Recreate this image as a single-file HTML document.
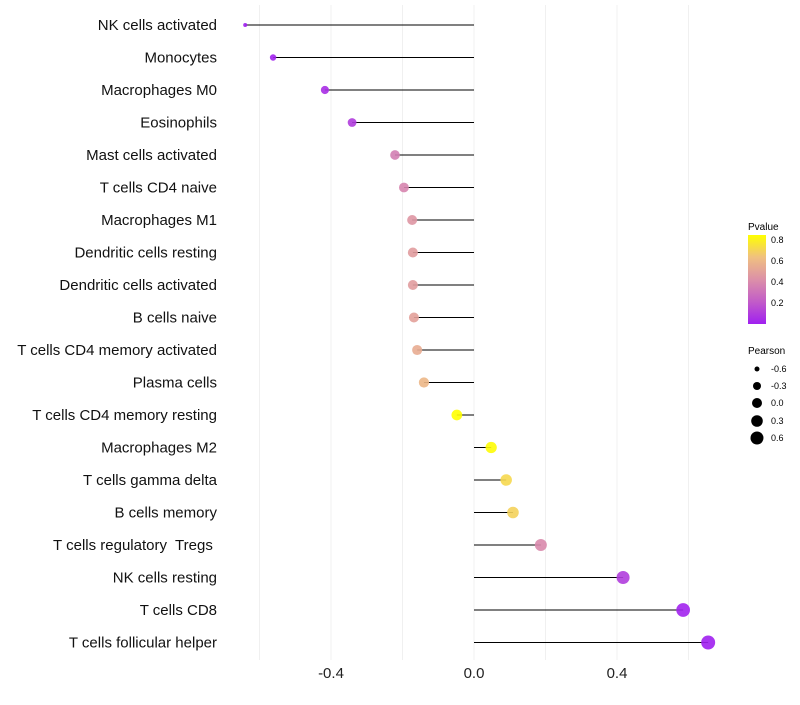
<!DOCTYPE html>
<html><head><meta charset="utf-8"><style>
body{margin:0;background:#fff;}
svg text{font-family:"Liberation Sans",sans-serif;white-space:pre;}
</style></head><body>
<svg id="chart" width="800" height="700">
<defs>
<linearGradient id="pg" x1="0" y1="1" x2="0" y2="0">
<stop offset="0" stop-color="#a020f0"/><stop offset="0.25" stop-color="#c25cc8"/><stop offset="0.5" stop-color="#dc90a8"/><stop offset="0.75" stop-color="#f0c080"/><stop offset="1" stop-color="#ffff00"/>
</linearGradient>
</defs>
<g id="grid"></g><g id="marks"></g><g id="labels"></g>
<g>
<text x="748" y="230" font-size="10">Pvalue</text>
<rect x="748" y="235" width="18" height="89" fill="url(#pg)"/>
<text x="771" y="243" font-size="9">0.8</text>
<text x="771" y="264" font-size="9">0.6</text>
<text x="771" y="285" font-size="9">0.4</text>
<text x="771" y="306" font-size="9">0.2</text>
</g>
<g>
<text x="748" y="354" font-size="10">Pearson</text>
<circle cx="757" cy="369" r="2.5"/><text x="771" y="372" font-size="9">-0.6</text>
<circle cx="757" cy="386" r="4"/><text x="771" y="389" font-size="9">-0.3</text>
<circle cx="757" cy="403" r="5"/><text x="771" y="406" font-size="9">0.0</text>
<circle cx="757" cy="421" r="5.8"/><text x="771" y="424" font-size="9">0.3</text>
<circle cx="757" cy="438" r="6.5"/><text x="771" y="441" font-size="9">0.6</text>
</g>
</svg>
<script>
const categories=["NK cells activated","Monocytes","Macrophages M0","Eosinophils","Mast cells activated","T cells CD4 naive","Macrophages M1","Dendritic cells resting","Dendritic cells activated","B cells naive","T cells CD4 memory activated","Plasma cells","T cells CD4 memory resting","Macrophages M2","T cells gamma delta","B cells memory","T cells regulatory  Tregs ","NK cells resting","T cells CD8","T cells follicular helper"];
const pearson=[-0.64,-0.562,-0.417,-0.341,-0.221,-0.196,-0.173,-0.171,-0.171,-0.168,-0.159,-0.14,-0.048,0.048,0.09,0.109,0.187,0.417,0.585,0.655];
const pvalue=[0.0,0.01,0.05,0.1,0.35,0.38,0.45,0.48,0.48,0.5,0.55,0.6,0.85,0.84,0.72,0.7,0.4,0.1,0.01,0.0];
const ticks=[-0.4,0,0.4];
const tickLabels=["-0.4","0.0","0.4"];
const NS="http://www.w3.org/2000/svg";
const xs=v=>474+v*357.5;
const ys=i=>25+i*32.5;
function col(p){
  const st=[[0,[160,32,240]],[0.21,[194,92,200]],[0.425,[220,144,168]],[0.64,[240,192,128]],[0.85,[255,255,0]]];
  p=Math.max(0,Math.min(0.85,p));
  for(let k=0;k<st.length-1;k++){if(p<=st[k+1][0]){const t=(p-st[k][0])/(st[k+1][0]-st[k][0]);const a=st[k][1],b=st[k+1][1];return `rgb(${a.map((c,j)=>Math.round(c+(b[j]-c)*t)).join(",")})`;}}
  return "rgb(255,255,0)";
}
const rs=v=>2+5*Math.sqrt(Math.max(0,(v+0.64)/1.3));
function mk(t,a,parent){const e=document.createElementNS(NS,t);for(const k in a)e.setAttribute(k,a[k]);parent.appendChild(e);return e;}
const grid=document.getElementById("grid"),marks=document.getElementById("marks"),labels=document.getElementById("labels");
[-0.6,-0.4,-0.2,0,0.2,0.4,0.6].forEach(v=>{
  const l=mk("line",{x1:xs(v),x2:xs(v),y1:5,y2:660,stroke:"#f0f0f0","stroke-width":1},grid);
  
  
});
ticks.forEach((v,i)=>{
  const t=mk("text",{x:xs(v),y:678,"font-size":15,"text-anchor":"middle",fill:"#222"},labels);
  t.textContent=tickLabels[i];
  
  
});
categories.forEach((c,i)=>{
  const t=mk("text",{x:217,y:ys(i)+5,"font-size":15,"text-anchor":"end",fill:"#111"},labels);
  t.textContent=c;
  
  
  const l=mk("line",{x1:xs(0),x2:xs(pearson[i]),y1:ys(i),y2:ys(i),stroke:"#000","stroke-width":1},marks);
  
  
  const d=mk("circle",{cx:xs(pearson[i]),cy:ys(i),r:rs(pearson[i]),fill:col(pvalue[i]),"fill-opacity":0.9},marks);
  
  
});
</script>
</body></html>
